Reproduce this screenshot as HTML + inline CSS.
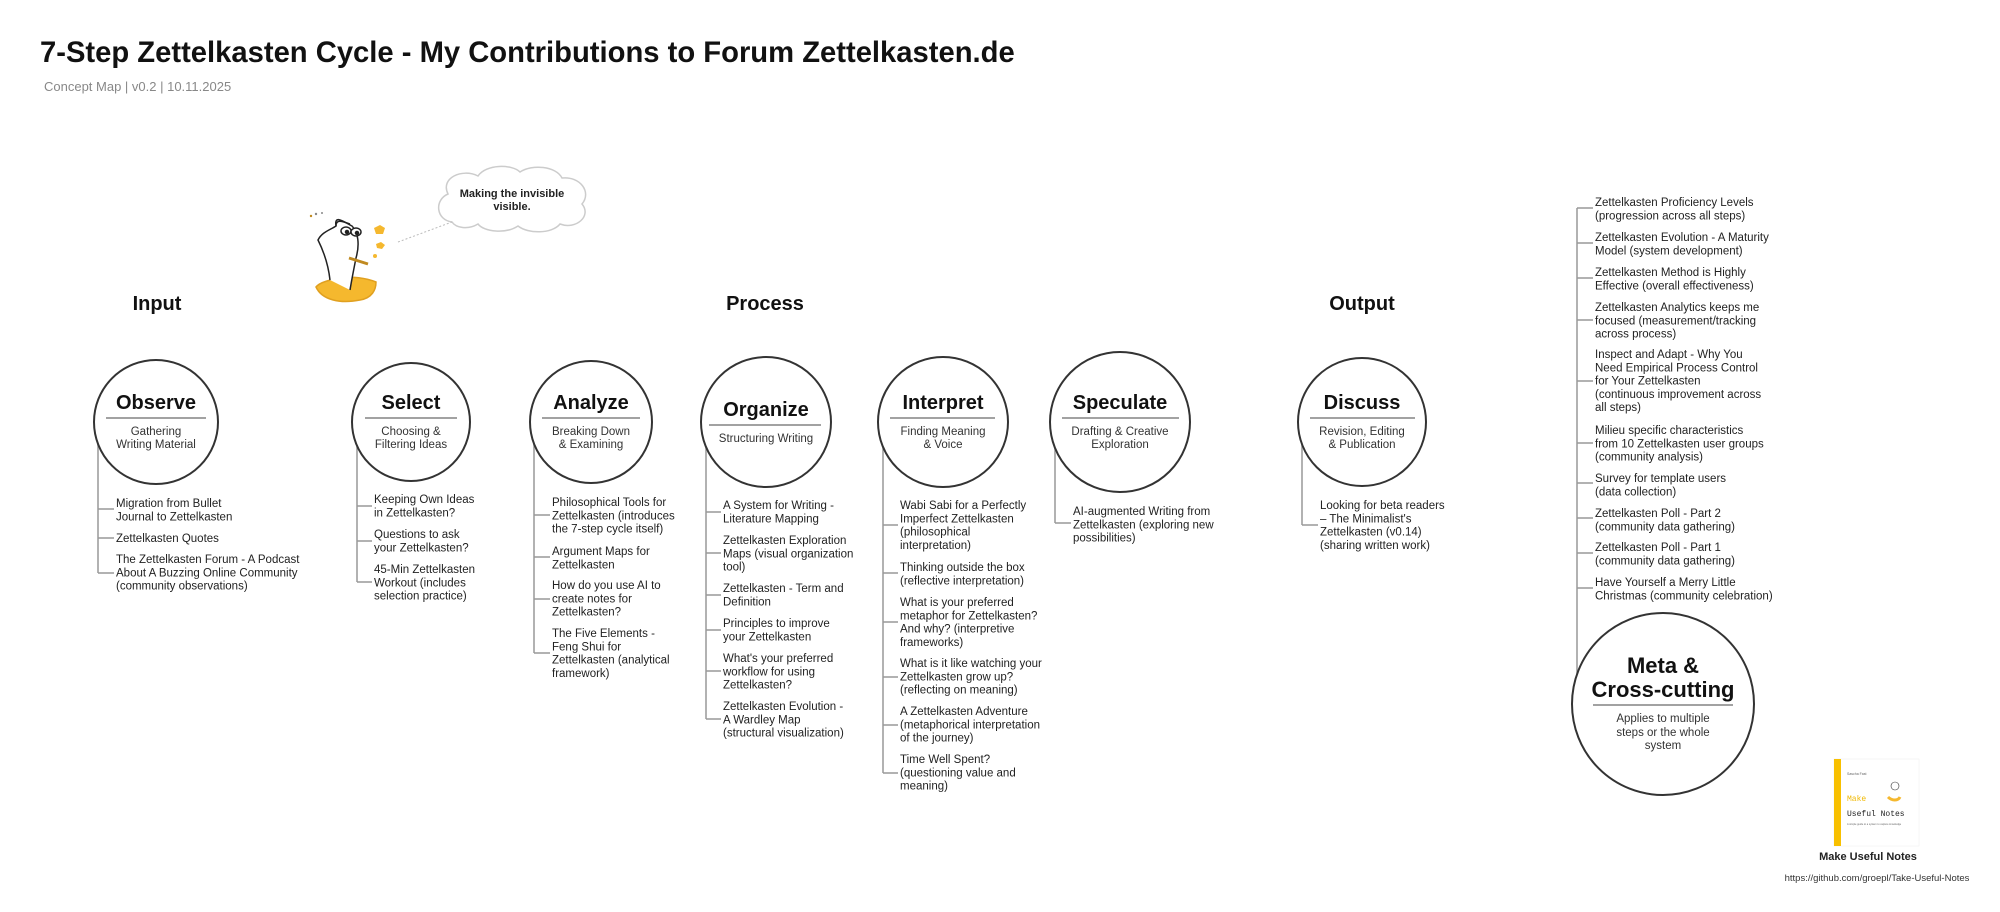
<!DOCTYPE html>
<html><head><meta charset="utf-8"><style>
html,body{margin:0;padding:0;background:#fff;}
svg{display:block;font-family:"Liberation Sans",Arial,sans-serif;}
.it{font-size:11.5px;fill:#222;}
.ct{font-size:20px;font-weight:bold;fill:#111;text-anchor:middle;}
.cs{font-size:11.5px;fill:#333;text-anchor:middle;}
.hd{font-size:20px;font-weight:bold;fill:#111;text-anchor:middle;}
.cn{stroke:#999;stroke-width:1.5;fill:none;}
.cc{stroke:#333;stroke-width:2;fill:#fff;}
.dv{stroke:#444;stroke-width:1;}
</style></head><body>
<svg width="2000" height="912" viewBox="0 0 2000 912" xmlns="http://www.w3.org/2000/svg">
<text x="40" y="62" font-size="29.2" font-weight="bold" fill="#111">7-Step Zettelkasten Cycle - My Contributions to Forum Zettelkasten.de</text>
<text x="44" y="91" font-size="13" fill="#888">Concept Map | v0.2 | 10.11.2025</text>

<!-- cloud -->
<path d="M452,222 C436,220 434,200 448,194 C440,178 462,168 478,176 C486,164 512,164 520,172 C532,164 556,166 562,178 C580,176 592,192 582,204 C592,216 576,230 560,224 C552,234 528,234 518,226 C506,234 484,232 478,224 C468,230 456,228 452,222 Z" fill="#fff" stroke="#ccc" stroke-width="1.5"/>
<line x1="398" y1="242" x2="452" y2="222" stroke="#bbb" stroke-width="1" stroke-dasharray="2,2"/>
<text x="512" y="197" font-size="11" font-weight="bold" fill="#222" text-anchor="middle">Making the invisible</text>
<text x="512" y="210" font-size="11" font-weight="bold" fill="#222" text-anchor="middle">visible.</text>

<!-- character -->
<g stroke="#222" stroke-width="1.5" fill="#fff">
<path d="M316,287 C322,300 340,304 360,300 C372,298 376,290 376,282 C366,278 352,276 340,278 C330,280 320,282 316,287 Z" fill="#f5b82e" stroke="#e0a020"/>
<path d="M330,280 C328,262 322,248 318,240 C322,232 330,230 336,226 C334,214 344,222 352,226 C358,232 360,244 356,258 C354,268 352,278 350,290" fill="#fff"/>
<path d="M336,226 C336,218 344,222 350,224" fill="none"/>
<ellipse cx="346" cy="231" rx="5" ry="4" fill="#fff"/>
<ellipse cx="356" cy="232" rx="5" ry="4" fill="#fff"/>
<circle cx="347" cy="232" r="1.5" fill="#222"/>
<circle cx="357" cy="233" r="1.5" fill="#222"/>
<line x1="349" y1="258" x2="368" y2="264" stroke="#c08a20" stroke-width="3"/>
</g>
<path d="M374,228 l6,-3 5,3 -2,6 -7,0 Z" fill="#f5b82e"/>
<path d="M376,244 l5,-2 4,3 -3,4 -5,-1 Z" fill="#f5b82e"/>
<circle cx="375" cy="256" r="2" fill="#f5b82e"/>
<circle cx="311" cy="216" r="1.2" fill="#c08a20"/><circle cx="316" cy="214" r="1.2" fill="#888"/><circle cx="322" cy="213" r="1" fill="#888"/>

<!-- headers -->
<text class="hd" x="157" y="310">Input</text>
<text class="hd" x="765" y="310">Process</text>
<text class="hd" x="1362" y="310">Output</text>

<!-- connectors -->
<g class="cn">
<path d="M98,444 V573 M98,509 H114 M98,538 H114 M98,573 H114"/>
<path d="M357,446 V582 M357,506 H372 M357,541 H372 M357,582 H372"/>
<path d="M534,444 V653 M534,515 H550 M534,557 H550 M534,599 H550 M534,653 H550"/>
<path d="M706,447 V719 M706,512 H721 M706,553 H721 M706,595 H721 M706,630 H721 M706,671 H721 M706,719 H721"/>
<path d="M883,447 V773 M883,525 H898 M883,573 H898 M883,622 H898 M883,677 H898 M883,725 H898 M883,773 H898"/>
<path d="M1055,448 V523 M1055,523 H1071"/>
<path d="M1302,444 V525 M1302,525 H1318"/>
<path d="M1577,208 V674 M1577,208 H1593 M1577,243 H1593 M1577,278 H1593 M1577,320 H1593 M1577,381 H1593 M1577,443 H1593 M1577,483 H1593 M1577,518 H1593 M1577,553 H1593 M1577,588 H1593"/>
</g>

<!-- circles -->
<circle class="cc" cx="156" cy="422" r="62"/>
<text class="ct" x="156" y="409">Observe</text><line class="dv" x1="106" y1="418" x2="206" y2="418"/>
<text class="cs" x="156" y="435">Gathering</text><text class="cs" x="156" y="448">Writing Material</text>

<circle class="cc" cx="411" cy="422" r="59"/>
<text class="ct" x="411" y="409">Select</text><line class="dv" x1="365" y1="418" x2="457" y2="418"/>
<text class="cs" x="411" y="435">Choosing &amp;</text><text class="cs" x="411" y="448">Filtering Ideas</text>

<circle class="cc" cx="591" cy="422" r="61"/>
<text class="ct" x="591" y="409">Analyze</text><line class="dv" x1="542" y1="418" x2="640" y2="418"/>
<text class="cs" x="591" y="435">Breaking Down</text><text class="cs" x="591" y="448">&amp; Examining</text>

<circle class="cc" cx="766" cy="422" r="65"/>
<text class="ct" x="766" y="416">Organize</text><line class="dv" x1="709" y1="425" x2="821" y2="425"/>
<text class="cs" x="766" y="442">Structuring Writing</text>

<circle class="cc" cx="943" cy="422" r="65"/>
<text class="ct" x="943" y="409">Interpret</text><line class="dv" x1="890" y1="418" x2="995" y2="418"/>
<text class="cs" x="943" y="435">Finding Meaning</text><text class="cs" x="943" y="448">&amp; Voice</text>

<circle class="cc" cx="1120" cy="422" r="70"/>
<text class="ct" x="1120" y="409">Speculate</text><line class="dv" x1="1062" y1="418" x2="1179" y2="418"/>
<text class="cs" x="1120" y="435">Drafting &amp; Creative</text><text class="cs" x="1120" y="448">Exploration</text>

<circle class="cc" cx="1362" cy="422" r="64"/>
<text class="ct" x="1362" y="409">Discuss</text><line class="dv" x1="1310" y1="418" x2="1415" y2="418"/>
<text class="cs" x="1362" y="435">Revision, Editing</text><text class="cs" x="1362" y="448">&amp; Publication</text>

<circle class="cc" cx="1663" cy="704" r="91"/>
<text class="ct" x="1663" y="673" style="font-size:22px">Meta &amp;</text>
<text class="ct" x="1663" y="697" style="font-size:22px">Cross-cutting</text>
<line class="dv" x1="1593" y1="705" x2="1733" y2="705"/>
<text class="cs" x="1663" y="722">Applies to multiple</text><text class="cs" x="1663" y="736">steps or the whole</text><text class="cs" x="1663" y="749">system</text>

<!-- items -->
<g class="it">
<text x="116" y="507"><tspan x="116">Migration from Bullet</tspan><tspan x="116" dy="13.3">Journal to Zettelkasten</tspan></text>
<text x="116" y="542">Zettelkasten Quotes</text>
<text x="116" y="563"><tspan x="116">The Zettelkasten Forum - A Podcast</tspan><tspan x="116" dy="13.3">About A Buzzing Online Community</tspan><tspan x="116" dy="13.3">(community observations)</tspan></text>

<text x="374" y="503"><tspan x="374">Keeping Own Ideas</tspan><tspan x="374" dy="13.3">in Zettelkasten?</tspan></text>
<text x="374" y="538"><tspan x="374">Questions to ask</tspan><tspan x="374" dy="13.3">your Zettelkasten?</tspan></text>
<text x="374" y="573"><tspan x="374">45-Min Zettelkasten</tspan><tspan x="374" dy="13.3">Workout (includes</tspan><tspan x="374" dy="13.3">selection practice)</tspan></text>

<text y="506"><tspan x="552">Philosophical Tools for</tspan><tspan x="552" dy="13.3">Zettelkasten (introduces</tspan><tspan x="552" dy="13.3">the 7-step cycle itself)</tspan></text>
<text y="555"><tspan x="552">Argument Maps for</tspan><tspan x="552" dy="13.3">Zettelkasten</tspan></text>
<text y="589"><tspan x="552">How do you use AI to</tspan><tspan x="552" dy="13.3">create notes for</tspan><tspan x="552" dy="13.3">Zettelkasten?</tspan></text>
<text y="637"><tspan x="552">The Five Elements -</tspan><tspan x="552" dy="13.3">Feng Shui for</tspan><tspan x="552" dy="13.3">Zettelkasten (analytical</tspan><tspan x="552" dy="13.3">framework)</tspan></text>

<text y="509"><tspan x="723">A System for Writing -</tspan><tspan x="723" dy="13.3">Literature Mapping</tspan></text>
<text y="544"><tspan x="723">Zettelkasten Exploration</tspan><tspan x="723" dy="13.3">Maps (visual organization</tspan><tspan x="723" dy="13.3">tool)</tspan></text>
<text y="592"><tspan x="723">Zettelkasten - Term and</tspan><tspan x="723" dy="13.3">Definition</tspan></text>
<text y="627"><tspan x="723">Principles to improve</tspan><tspan x="723" dy="13.3">your Zettelkasten</tspan></text>
<text y="662"><tspan x="723">What's your preferred</tspan><tspan x="723" dy="13.3">workflow for using</tspan><tspan x="723" dy="13.3">Zettelkasten?</tspan></text>
<text y="710"><tspan x="723">Zettelkasten Evolution -</tspan><tspan x="723" dy="13.3">A Wardley Map</tspan><tspan x="723" dy="13.3">(structural visualization)</tspan></text>

<text y="509"><tspan x="900">Wabi Sabi for a Perfectly</tspan><tspan x="900" dy="13.3">Imperfect Zettelkasten</tspan><tspan x="900" dy="13.3">(philosophical</tspan><tspan x="900" dy="13.3">interpretation)</tspan></text>
<text y="571"><tspan x="900">Thinking outside the box</tspan><tspan x="900" dy="13.3">(reflective interpretation)</tspan></text>
<text y="606"><tspan x="900">What is your preferred</tspan><tspan x="900" dy="13.3">metaphor for Zettelkasten?</tspan><tspan x="900" dy="13.3">And why? (interpretive</tspan><tspan x="900" dy="13.3">frameworks)</tspan></text>
<text y="667"><tspan x="900">What is it like watching your</tspan><tspan x="900" dy="13.3">Zettelkasten grow up?</tspan><tspan x="900" dy="13.3">(reflecting on meaning)</tspan></text>
<text y="715"><tspan x="900">A Zettelkasten Adventure</tspan><tspan x="900" dy="13.3">(metaphorical interpretation</tspan><tspan x="900" dy="13.3">of the journey)</tspan></text>
<text y="763"><tspan x="900">Time Well Spent?</tspan><tspan x="900" dy="13.3">(questioning value and</tspan><tspan x="900" dy="13.3">meaning)</tspan></text>

<text y="515"><tspan x="1073">AI-augmented Writing from</tspan><tspan x="1073" dy="13.3">Zettelkasten (exploring new</tspan><tspan x="1073" dy="13.3">possibilities)</tspan></text>

<text y="509"><tspan x="1320">Looking for beta readers</tspan><tspan x="1320" dy="13.3">– The Minimalist's</tspan><tspan x="1320" dy="13.3">Zettelkasten (v0.14)</tspan><tspan x="1320" dy="13.3">(sharing written work)</tspan></text>

<text y="206"><tspan x="1595">Zettelkasten Proficiency Levels</tspan><tspan x="1595" dy="13.3">(progression across all steps)</tspan></text>
<text y="241"><tspan x="1595">Zettelkasten Evolution - A Maturity</tspan><tspan x="1595" dy="13.3">Model (system development)</tspan></text>
<text y="276"><tspan x="1595">Zettelkasten Method is Highly</tspan><tspan x="1595" dy="13.3">Effective (overall effectiveness)</tspan></text>
<text y="311"><tspan x="1595">Zettelkasten Analytics keeps me</tspan><tspan x="1595" dy="13.3">focused (measurement/tracking</tspan><tspan x="1595" dy="13.3">across process)</tspan></text>
<text y="358"><tspan x="1595">Inspect and Adapt - Why You</tspan><tspan x="1595" dy="13.3">Need Empirical Process Control</tspan><tspan x="1595" dy="13.3">for Your Zettelkasten</tspan><tspan x="1595" dy="13.3">(continuous improvement across</tspan><tspan x="1595" dy="13.3">all steps)</tspan></text>
<text y="434"><tspan x="1595">Milieu specific characteristics</tspan><tspan x="1595" dy="13.3">from 10 Zettelkasten user groups</tspan><tspan x="1595" dy="13.3">(community analysis)</tspan></text>
<text y="482"><tspan x="1595">Survey for template users</tspan><tspan x="1595" dy="13.3">(data collection)</tspan></text>
<text y="517"><tspan x="1595">Zettelkasten Poll - Part 2</tspan><tspan x="1595" dy="13.3">(community data gathering)</tspan></text>
<text y="551"><tspan x="1595">Zettelkasten Poll - Part 1</tspan><tspan x="1595" dy="13.3">(community data gathering)</tspan></text>
<text y="586"><tspan x="1595">Have Yourself a Merry Little</tspan><tspan x="1595" dy="13.3">Christmas (community celebration)</tspan></text>
</g>

<!-- book logo -->
<rect x="1834" y="759" width="85" height="87" fill="#fff" stroke="#eee" stroke-width="0.5"/>
<rect x="1834" y="759" width="7" height="87" fill="#f8c000"/>
<text x="1847" y="775" font-size="3.5" fill="#666">Sascha Fast</text>
<text x="1847" y="801" font-size="8" fill="#f0b800" font-family="Liberation Mono,monospace">Make</text>
<text x="1847" y="816" font-size="8" fill="#222" font-family="Liberation Mono,monospace">Useful Notes</text>
<text x="1847" y="825" font-size="2.5" fill="#666">A simple guide to a system to capture knowledge</text>
<path d="M1888,797 c4,4 10,4 12,0" stroke="#f5b82e" stroke-width="3" fill="none"/>
<circle cx="1895" cy="786" r="4" fill="#fff" stroke="#333" stroke-width="0.6"/>
<text x="1868" y="860" font-size="11" font-weight="bold" fill="#222" text-anchor="middle">Make Useful Notes</text>
<text x="1877" y="881" font-size="9.5" fill="#333" text-anchor="middle">https://github.com/groepl/Take-Useful-Notes</text>
</svg>
</body></html>
